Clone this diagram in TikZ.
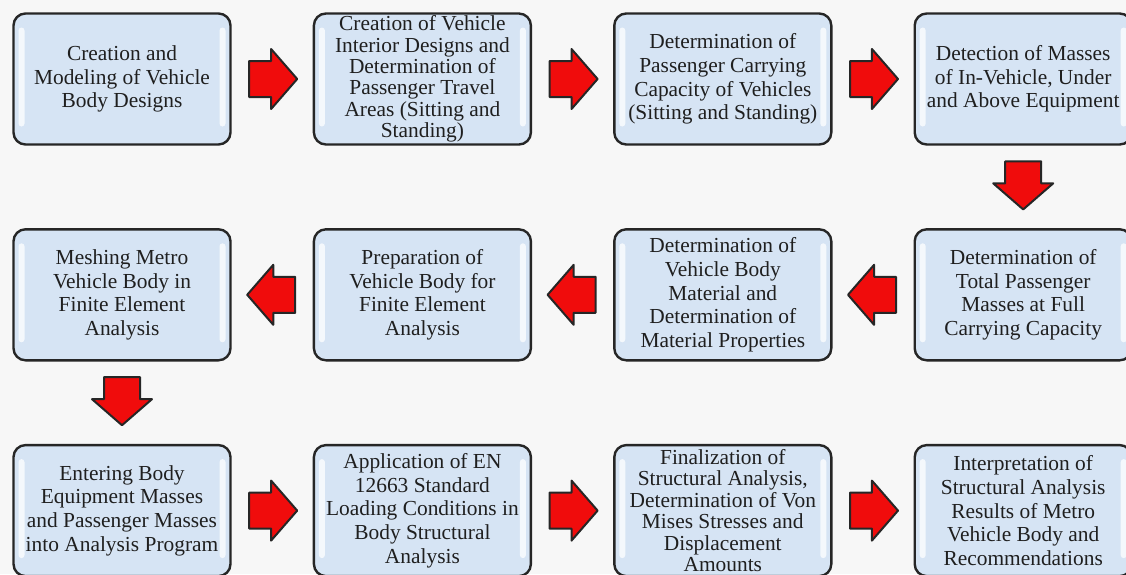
\documentclass[tikz,border=0pt]{standalone}
\usepackage{fontspec}
\setmainfont{Liberation Serif}
\usepackage{tikz}
\usetikzlibrary{positioning, calc, shapes.arrows}
\usepackage{xcolor}
\definecolor{boxblue}{RGB}{214,228,244}
\definecolor{arrowred}{RGB}{240,12,12}

\begin{document}
\begin{tikzpicture}[
    node distance=41.2pt and 40.5pt,
    box/.style={draw=black!85, line width=1.2pt, rectangle, rounded corners=6pt,
        fill=boxblue, minimum width=108.5pt, minimum height=65.5pt, inner sep=0pt,
        align=center, text=black!88, font=\fontsize{10.7}{11.8}\selectfont,
        path picture={
            \fill[white, opacity=.75, rounded corners=1.5pt]
                ([xshift=2.5pt,yshift=-7pt]path picture bounding box.north west)
                rectangle ([xshift=5.5pt,yshift=9pt]path picture bounding box.south west);
            \fill[white, opacity=.75, rounded corners=1.5pt]
                ([xshift=-2.5pt,yshift=-7pt]path picture bounding box.north east)
                rectangle ([xshift=-5.5pt,yshift=9pt]path picture bounding box.south east);
        }},
    tallbox/.style={box, font=\fontsize{10.7}{10.7}\selectfont},
    bigarrow/.style={single arrow, draw=black!85, line width=1pt, line join=round,
        fill=arrowred, minimum height=24pt, inner xsep=0pt, inner ysep=8.5pt,
        single arrow head extend=6pt, single arrow tip angle=98, anchor=tail}
]

% Fundo
\fill[white!97!black] (0,0) rectangle (563pt,-287pt);
\useasboundingbox (0,0) rectangle (563pt,-287pt);

% Linha 1
\node[box] (step1) at (61pt,-39.5pt) {Creation and\\Modeling of Vehicle\\Body Designs};
\node[tallbox, right=of step1] (step2) {Creation of Vehicle\\Interior Designs and\\Determination of\\Passenger Travel\\Areas (Sitting and\\Standing)};
\node[box, right=of step2] (step3) {Determination of\\Passenger Carrying\\Capacity of Vehicles\\(Sitting and Standing)};
\node[box, right=of step3] (step4) {Detection of Masses\\of In-Vehicle, Under\\and Above Equipment};

% Linha 2
\node[box, below=of step4] (step5) {Determination of\\Total Passenger\\Masses at Full\\Carrying Capacity};
\node[box, left=of step5] (step6) {Determination of\\Vehicle Body\\Material and\\Determination of\\Material Properties};
\node[box, left=of step6] (step7) {Preparation of\\Vehicle Body for\\Finite Element\\Analysis};
\node[box, left=of step7] (step8) {Meshing Metro\\Vehicle Body in\\Finite Element\\Analysis};

% Linha 3
\node[box, below=of step8] (step9) {Entering Body\\Equipment Masses\\and Passenger Masses\\into Analysis Program};
\node[box, right=of step9] (step10) {Application of EN\\12663 Standard\\Loading Conditions in\\Body Structural\\Analysis};
\node[tallbox, right=of step10] (step11) {Finalization of\\Structural Analysis,\\Determination of Von\\Mises Stresses and\\Displacement\\Amounts};
\node[box, right=of step11] (step12) {Interpretation of\\Structural Analysis\\Results of Metro\\Vehicle Body and\\Recommendations};

% Setas
\node[bigarrow] (arr1) at ($(step1.east)!.5!(step2.west)+(-12pt,0)$) {};
\node[bigarrow] (arr2) at ($(step2.east)!.5!(step3.west)+(-12pt,0)$) {};
\node[bigarrow] (arr3) at ($(step3.east)!.5!(step4.west)+(-12pt,0)$) {};
\node[bigarrow, rotate=-90] (arr4) at ($(step4.south)!.47!(step5.north)+(0,12pt)$) {};
\node[bigarrow, rotate=180] (arr5) at ($(step5.west)!.5!(step6.east)+(12pt,0)$) {};
\node[bigarrow, rotate=180] (arr6) at ($(step6.west)!.5!(step7.east)+(12pt,0)$) {};
\node[bigarrow, rotate=180] (arr7) at ($(step7.west)!.5!(step8.east)+(12pt,0)$) {};
\node[bigarrow, rotate=-90] (arr8) at ($(step8.south)!.47!(step9.north)+(0,12pt)$) {};
\node[bigarrow] (arr9) at ($(step9.east)!.5!(step10.west)+(-12pt,0)$) {};
\node[bigarrow] (arr10) at ($(step10.east)!.5!(step11.west)+(-12pt,0)$) {};
\node[bigarrow] (arr11) at ($(step11.east)!.5!(step12.west)+(-12pt,0)$) {};

\end{tikzpicture}
\end{document}
